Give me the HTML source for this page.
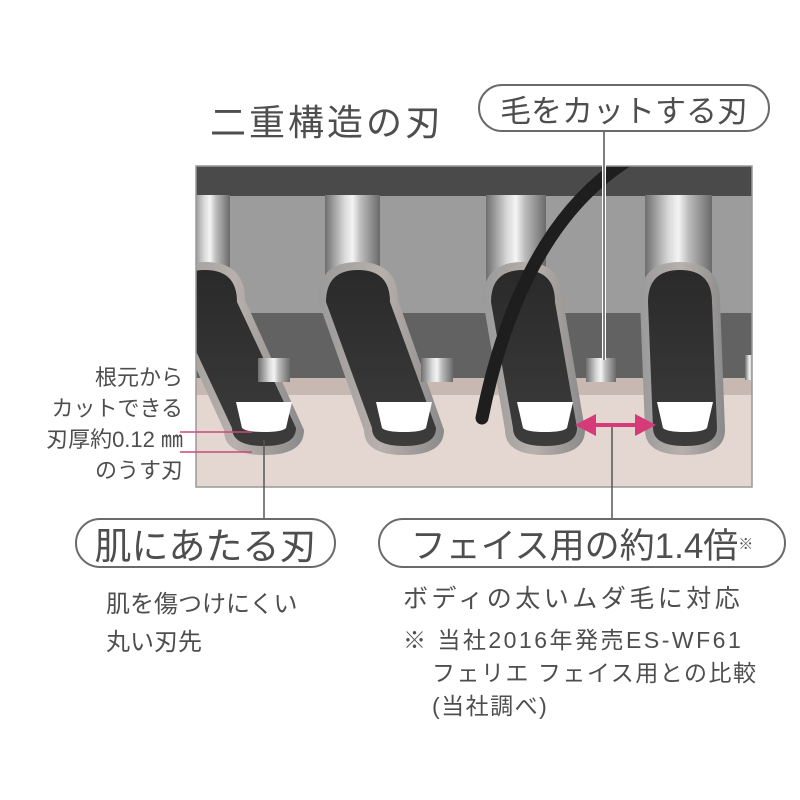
<!DOCTYPE html>
<html><head><meta charset="utf-8"><style>
html,body{margin:0;padding:0;background:#fff;}
body{width:800px;height:800px;position:relative;overflow:hidden;font-family:"Liberation Sans","Noto Sans CJK JP",sans-serif;color:#4e4e4e;}
.t{position:absolute;white-space:nowrap;line-height:1;}
.pill{position:absolute;border:2px solid #6a6a6a;border-radius:26px;box-sizing:border-box;display:flex;align-items:center;justify-content:center;color:#4e4e4e;}
</style></head><body>
<svg width="800" height="800" style="position:absolute;left:0;top:0">
<defs>
<clipPath id="cb"><rect x="196" y="166" width="556" height="321"/></clipPath>
<linearGradient id="met" x1="0" x2="1" y1="0" y2="0">
<stop offset="0" stop-color="#6e6e6e"/><stop offset="0.35" stop-color="#d8d8d8"/><stop offset="0.5" stop-color="#f4f4f4"/><stop offset="0.65" stop-color="#bcbcbc"/><stop offset="1" stop-color="#6a6a6a"/></linearGradient>
<linearGradient id="rim" x1="0" x2="1" y1="0" y2="0">
<stop offset="0" stop-color="#9a9a9a"/><stop offset="0.5" stop-color="#b8b0ac"/><stop offset="1" stop-color="#8a8a8a"/></linearGradient>
<linearGradient id="dk" x1="0" x2="0" y1="0" y2="1">
<stop offset="0" stop-color="#2a2a2a"/><stop offset="1" stop-color="#3c3c3c"/></linearGradient>
</defs>
<g clip-path="url(#cb)">
<rect x="196" y="166" width="556" height="321" fill="#e4d6d0"/>
<rect x="196" y="195" width="556" height="120" fill="#9c9c9c"/>
<rect x="196" y="313" width="556" height="70" fill="#626262"/>
<rect x="196" y="378" width="556" height="17" fill="#c8b8b2"/>
<rect x="196" y="166" width="556" height="30" fill="#4a4a4a"/>
<rect x="190" y="195" width="40" height="110" fill="url(#met)"/>
<rect x="325" y="195" width="55" height="100" fill="url(#met)"/>
<rect x="486" y="195" width="60" height="100" fill="url(#met)"/>
<rect x="645" y="195" width="67" height="100" fill="url(#met)"/>
<g>
<path d="M165,300 Q165,262 205,262 Q245,262 245,300 L304,430 Q304,455 264,455 Q224,455 224,430 Z" fill="url(#rim)"/>
<path d="M173,302 Q173,270 205,270 Q237,270 237,302 L296,428 Q296,446 264,446 Q232,446 232,428 Z" fill="url(#dk)"/>
<path d="M236,402 L292,402 L286,428 Q282,432 264,432 Q246,432 242,428 Z" fill="#fff"/>

<path d="M318,300 Q318,262 358,262 Q398,262 398,300 L444,430 Q444,455 404,455 Q364,455 364,430 Z" fill="url(#rim)"/>
<path d="M326,302 Q326,270 358,270 Q390,270 390,302 L436,428 Q436,446 404,446 Q372,446 372,428 Z" fill="url(#dk)"/>
<path d="M376,402 L432,402 L426,428 Q422,432 404,432 Q386,432 382,428 Z" fill="#fff"/>

<path d="M483,300 Q483,262 523,262 Q563,262 563,300 L585,430 Q585,455 545,455 Q505,455 505,430 Z" fill="url(#rim)"/>
<path d="M491,302 Q491,270 523,270 Q555,270 555,302 L577,428 Q577,446 545,446 Q513,446 513,428 Z" fill="url(#dk)"/>
<path d="M517,402 L573,402 L567,428 Q563,432 545,432 Q527,432 523,428 Z" fill="#fff"/>

<path d="M640,300 Q640,262 680,262 Q720,262 720,300 L725,430 Q725,455 685,455 Q645,455 645,430 Z" fill="url(#rim)"/>
<path d="M648,302 Q648,270 680,270 Q712,270 712,302 L717,428 Q717,446 685,446 Q653,446 653,428 Z" fill="url(#dk)"/>
<path d="M657,402 L713,402 L707,428 Q703,432 685,432 Q667,432 663,428 Z" fill="#fff"/>
</g>
<rect x="258" y="358" width="32" height="24" fill="url(#met)"/>
<rect x="421" y="358" width="32" height="24" fill="url(#met)"/>
<rect x="586" y="358" width="30" height="24" fill="url(#met)"/>
<rect x="745" y="355" width="10" height="25" fill="url(#met)"/>
<path d="M625,162 Q520,230 482,418" fill="none" stroke="#1e1e1e" stroke-width="13" stroke-linecap="round"/>
</g>
<rect x="196" y="166" width="556" height="321" fill="none" stroke="#999" stroke-width="1.5"/>
<line x1="604" y1="131" x2="604" y2="360" stroke="#fff" stroke-width="4"/>
<line x1="604" y1="131" x2="604" y2="360" stroke="#555" stroke-width="1.5"/>
<line x1="264" y1="440" x2="264" y2="519" stroke="#555" stroke-width="1.5"/>
<line x1="612" y1="425" x2="612" y2="519" stroke="#555" stroke-width="1.5"/>
<line x1="180" y1="432" x2="252" y2="432" stroke="#c94a78" stroke-width="1.5"/>
<line x1="180" y1="452" x2="252" y2="452" stroke="#c94a78" stroke-width="1.5"/>
<line x1="590" y1="425" x2="640" y2="425" stroke="#d63a78" stroke-width="4"/>
<polygon points="575,425 596,414 596,436" fill="#d63a78"/>
<polygon points="656,425 635,414 635,436" fill="#d63a78"/>
</svg>

<div class="t" style="left:210px;top:105px;font-size:36px;letter-spacing:3px;">二重構造の刃</div>
<div class="pill" style="left:478px;top:84px;width:292px;height:48px;font-size:31px;background:#fff;">毛をカットする刃</div>

<div class="t" style="right:617px;top:362px;font-size:22px;text-align:right;line-height:31px;">根元から<br>カットできる<br>刃厚約0.12 ㎜<br>のうす刃</div>

<div class="pill" style="left:75px;top:518px;width:261px;height:50px;font-size:37px;background:#fff;">肌にあたる刃</div>
<div class="pill" style="left:378px;top:518px;width:408px;height:50px;font-size:35px;background:#fff;">フェイス用の約1.4倍<sup style="font-size:15px;vertical-align:14px">※</sup></div>

<div class="t" style="left:106px;top:586px;font-size:24px;line-height:38px;">肌を傷つけにくい<br>丸い刃先</div>
<div class="t" style="left:403px;top:587px;font-size:25px;letter-spacing:3.5px;">ボディの太いムダ毛に対応</div>
<div class="t" style="left:403px;top:624px;font-size:23px;line-height:33px;letter-spacing:2.5px;">※ 当社2016年発売ES-WF61</div>
<div class="t" style="left:432px;top:657px;font-size:23px;line-height:33px;letter-spacing:1.5px;">フェリエ フェイス用との比較<br>(当社調べ)</div>
</body></html>
